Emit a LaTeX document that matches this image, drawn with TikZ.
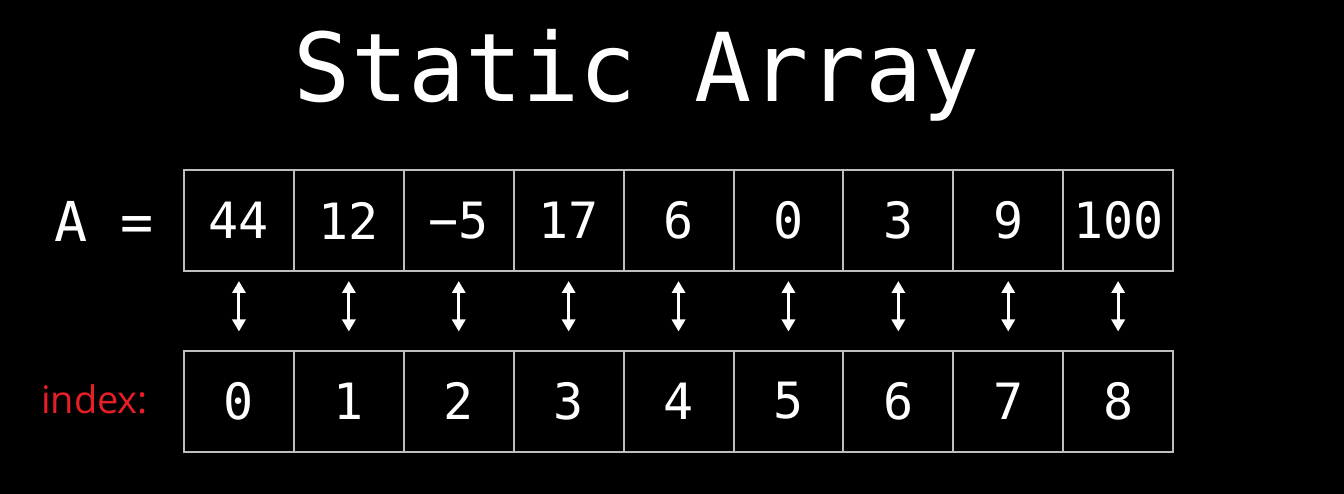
\documentclass[tikz,border=0pt]{standalone}
\usepackage{fontspec}
\usetikzlibrary{arrows.meta}
\newfontfamily\monofam{DejaVu Sans Mono}
\newfontfamily\labelfam{Open Sans}
\definecolor{cellgray}{RGB}{190,190,190}
\definecolor{idxred}{RGB}{230,30,38}
\begin{document}
\begin{tikzpicture}[x=1pt,y=-1pt,
  cellbox/.style={draw=cellgray, line width=2pt, minimum width=109.9pt, minimum height=101pt,
    inner sep=0pt, text=white, font=\monofam\fontsize{50}{50}\selectfont},
  linkarrow/.style={white, line width=3pt, {Triangle[width=13pt,length=12pt]}-{Triangle[width=13pt,length=12pt]},
    shorten <=9pt, shorten >=18pt}]
\fill[black] (0,0) rectangle (1344,494);
\useasboundingbox (0,0) rectangle (1344,494);
\node[anchor=base, text=white, inner sep=0pt, font=\monofam\fontsize{95}{100}\selectfont] (title) at (637,102) {Static Array};
\node[anchor=base, text=white, inner sep=0pt, font=\monofam\fontsize{55}{60}\selectfont] (aeq) at (104,242) {A =};
\node[anchor=base, text=idxred, inner sep=0pt, font=\labelfam\fontsize{38}{40}\selectfont] (idx) at (94.5,413) {index:};
\foreach \v [count=\i from 0] in {44,12,{\char"2212 5},17,6,0,3,9,100} {
  \node[cellbox] (t\i) at ({184+54.95+109.9*\i},220.5) {\v};
}
\foreach \v [count=\i from 0] in {0,1,2,3,4,5,6,7,8} {
  \node[cellbox] (b\i) at ({184+54.95+109.9*\i},401) {\v};
}
\foreach \i in {0,...,8} {
  \draw[linkarrow] (t\i) -- (b\i);
}
\end{tikzpicture}
\end{document}
